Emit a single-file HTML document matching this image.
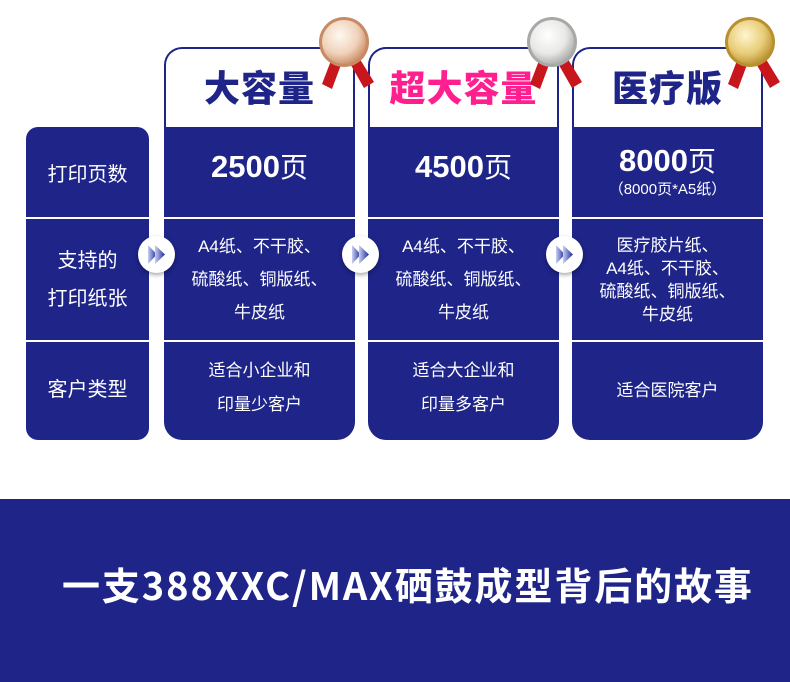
<!DOCTYPE html>
<html><head><meta charset="utf-8"><style>
*{margin:0;padding:0;box-sizing:border-box}
body{width:790px;height:682px;background:#fff;position:relative;overflow:hidden;font-family:"Liberation Sans","Noto Sans CJK SC",sans-serif;color:#fff}
.abs{position:absolute}
.blue{background:#1e2488}
.card{position:absolute;top:47px;width:191px;height:393px;border-radius:18px;background:#1e2488;overflow:hidden}
.card .hd{position:absolute;left:2px;top:2px;right:2px;height:78px;background:#fff;border-radius:16px 16px 0 0;text-align:center;font-weight:900;font-size:36px;line-height:80px;color:#1e2488;letter-spacing:1px}
.line{position:absolute;left:0;right:0;height:2px;background:#fff}
.cell{position:absolute;left:0;right:0;text-align:center;font-size:18px;display:flex;align-items:center;justify-content:center;flex-direction:column}
.n{display:block;white-space:nowrap;font-family:"Liberation Sans Narrow","Liberation Sans",sans-serif;font-weight:bold;font-size:31px;line-height:36px}
.n span{font-family:"Noto Sans CJK SC",sans-serif;font-weight:normal;font-size:28px}
.arrow{position:absolute;top:236px;width:37px;height:37px;border-radius:50%;background:#fff;box-shadow:0 2px 4px rgba(0,0,0,.35)}
</style></head><body>

<div class="abs blue" style="left:26px;top:127px;width:123px;height:313px;border-radius:12px;overflow:hidden">
  <div class="line" style="top:90px"></div>
  <div class="line" style="top:213px"></div>
  <div class="cell" style="top:0;height:90px;font-size:20px">打印页数</div>
  <div class="cell" style="top:92px;height:121px;font-size:20px;line-height:38px">支持的<br>打印纸张</div>
  <div class="cell" style="top:215px;height:90px;font-size:20px">客户类型</div>
</div>

<div class="card" style="left:164px">
  <div class="hd">大容量</div>
  <div class="line" style="top:170px"></div>
  <div class="line" style="top:293px"></div>
  <div class="cell" style="top:80px;height:86px;padding-bottom:8px"><div class="n">2500<span>页</span></div></div>
  <div class="cell" style="top:172px;height:121px;line-height:33px;font-size:17px">A4纸、不干胶、<br>硫酸纸、铜版纸、<br>牛皮纸</div>
  <div class="cell" style="top:295px;height:92px;line-height:34px;font-size:17px">适合小企业和<br>印量少客户</div>
</div>

<div class="card" style="left:368px">
  <div class="hd" style="color:#ff1f8f">超大容量</div>
  <div class="line" style="top:170px"></div>
  <div class="line" style="top:293px"></div>
  <div class="cell" style="top:80px;height:86px;padding-bottom:8px"><div class="n">4500<span>页</span></div></div>
  <div class="cell" style="top:172px;height:121px;line-height:33px;font-size:17px">A4纸、不干胶、<br>硫酸纸、铜版纸、<br>牛皮纸</div>
  <div class="cell" style="top:295px;height:92px;line-height:34px;font-size:17px">适合大企业和<br>印量多客户</div>
</div>

<div class="card" style="left:572px">
  <div class="hd">医疗版</div>
  <div class="line" style="top:170px"></div>
  <div class="line" style="top:293px"></div>
  <div class="cell" style="top:80px;height:88px"><div class="n">8000<span>页</span></div><div style="font-size:15px;line-height:22px">（8000页*A5纸）</div></div>
  <div class="cell" style="top:172px;height:121px;line-height:23px;font-size:17px">医疗胶片纸、<br>A4纸、不干胶、<br>硫酸纸、铜版纸、<br>牛皮纸</div>
  <div class="cell" style="top:295px;height:92px;font-size:17px">适合医院客户</div>
</div>

<svg width="0" height="0" style="position:absolute"><defs><linearGradient id="ag" x1="0" x2="1"><stop offset="0" stop-color="#c8d0f0"/><stop offset="1" stop-color="#1e2a9a"/></linearGradient></defs></svg>
<div class="arrow" style="left:138px"><svg width="37" height="37"><polygon points="10,9 19,18.5 10,28" fill="url(#ag)"/><polygon points="17,9 27,18.5 17,28" fill="url(#ag)"/></svg></div>
<div class="arrow" style="left:342px"><svg width="37" height="37"><polygon points="10,9 19,18.5 10,28" fill="url(#ag)"/><polygon points="17,9 27,18.5 17,28" fill="url(#ag)"/></svg></div>
<div class="arrow" style="left:546px"><svg width="37" height="37"><polygon points="10,9 19,18.5 10,28" fill="url(#ag)"/><polygon points="17,9 27,18.5 17,28" fill="url(#ag)"/></svg></div>

<svg class="abs" style="left:0;top:0" width="790" height="100">
  <defs>
    <radialGradient id="bz" cx="0.4" cy="0.35" r="0.7"><stop offset="0" stop-color="#fff8f0"/><stop offset="0.6" stop-color="#f0d2bb"/><stop offset="1" stop-color="#c88a62"/></radialGradient>
    <radialGradient id="sv" cx="0.4" cy="0.35" r="0.7"><stop offset="0" stop-color="#ffffff"/><stop offset="0.6" stop-color="#e8e8e6"/><stop offset="1" stop-color="#a8a8a6"/></radialGradient>
    <radialGradient id="gd" cx="0.4" cy="0.35" r="0.7"><stop offset="0" stop-color="#fff6d0"/><stop offset="0.6" stop-color="#e8cc78"/><stop offset="1" stop-color="#b8902e"/></radialGradient>
  </defs>
  <g transform="translate(344,42)">
    <polygon points="-12,16 -2,20 -12,47 -22,42" fill="#c8161d"/><polygon points="4,18 14,14 30,40 20,46" fill="#c8161d"/>
    <circle r="25" fill="#c88a62"/><circle r="22" fill="url(#bz)"/>
  </g>
  <g transform="translate(552,42)">
    <polygon points="-12,16 -2,20 -12,47 -22,42" fill="#c8161d"/><polygon points="4,18 14,14 30,40 20,46" fill="#c8161d"/>
    <circle r="25" fill="#a8a8a6"/><circle r="22" fill="url(#sv)"/>
  </g>
  <g transform="translate(750,42)">
    <polygon points="-12,16 -2,20 -12,47 -22,42" fill="#c8161d"/><polygon points="4,18 14,14 30,40 20,46" fill="#c8161d"/>
    <circle r="25" fill="#b8902e"/><circle r="22" fill="url(#gd)"/>
  </g>
</svg>

<div class="abs" style="left:0;top:499px;width:790px;height:183px;background:#1e2488"></div>
<div class="abs" style="left:62px;top:558px;width:720px;font-size:38px;font-weight:bold;line-height:52px;white-space:nowrap;letter-spacing:1.9px;font-family:'Noto Sans CJK SC',sans-serif">一支388XXC/MAX硒鼓成型背后的故事</div>
</body></html>
